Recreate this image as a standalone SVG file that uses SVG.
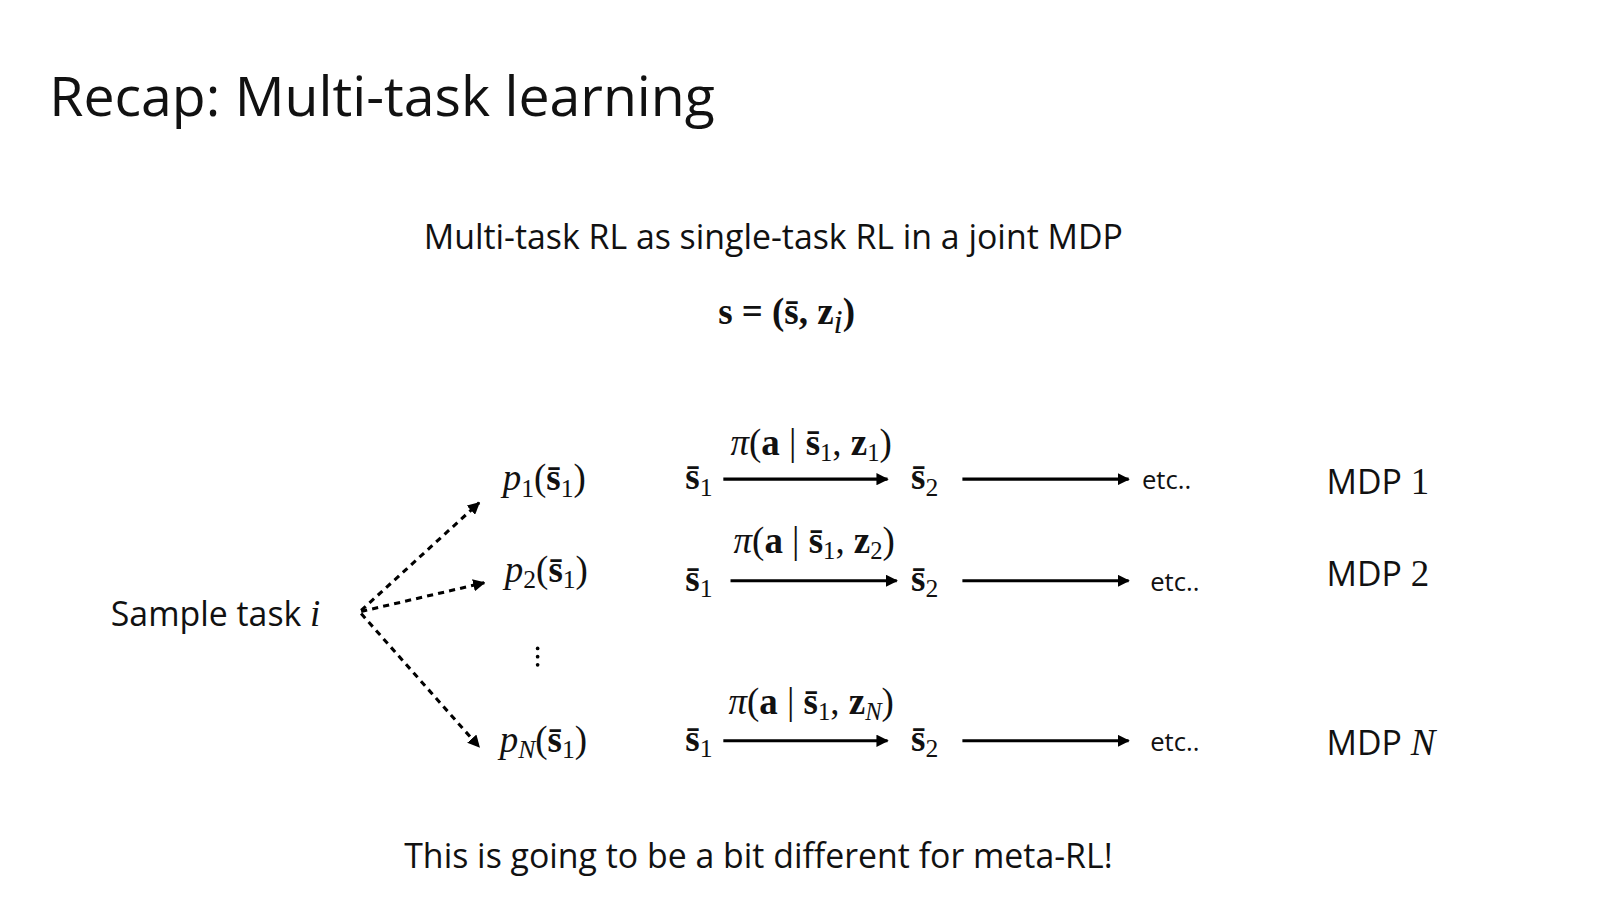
<svg xmlns="http://www.w3.org/2000/svg" width="1600" height="900" viewBox="0 0 1600 900">
<style>
.sans{font-family:"Open Sans","Noto Sans",sans-serif;fill:#111}
.m{font-family:"Liberation Serif",serif;fill:#111;font-size:36px}
.b{font-weight:bold}
.i{font-style:italic}
.ln{stroke:#000;stroke-width:3;fill:none}
.dl{stroke:#000;stroke-width:3;fill:none;stroke-dasharray:6,5}
</style>
<defs>
<marker id="ah" viewBox="0 0 10 10" refX="9" refY="5" markerWidth="4" markerHeight="4" orient="auto"><path d="M0,0 L10,5 L0,10 z" fill="#000"/></marker>
</defs>
<rect width="1600" height="900" fill="#fff"/>
<g transform="scale(1.026)">
<text class="sans" x="48" y="113" font-size="54">Recap: Multi-task learning</text>
<text class="sans" x="413" y="243" font-size="33">Multi-task RL as single-task RL in a joint MDP</text>
<text class="m b" x="700" y="316" font-size="46">s = (s̄, z<tspan class="i" font-weight="normal" font-size="32" dy="9">i</tspan><tspan dy="-9">)</tspan></text>
<g id="sample"><text class="sans" x="108" y="610" font-size="33">Sample task <tspan class="m i" font-size="38">i</tspan></text></g>
<g id="p1"><text class="m" x="490" y="478"><tspan class="i">p</tspan><tspan font-size="25" dy="6">1</tspan><tspan dy="-6">(</tspan><tspan class="b">s̄</tspan><tspan font-size="25" dy="6">1</tspan><tspan dy="-6">)</tspan></text></g>
<g id="p2"><text class="m" x="492" y="567"><tspan class="i">p</tspan><tspan font-size="25" dy="6">2</tspan><tspan dy="-6">(</tspan><tspan class="b">s̄</tspan><tspan font-size="25" dy="6">1</tspan><tspan dy="-6">)</tspan></text></g>
<g id="pN"><text class="m" x="487" y="733"><tspan class="i">p</tspan><tspan class="i" font-size="25" dy="6">N</tspan><tspan dy="-6">(</tspan><tspan class="b">s̄</tspan><tspan font-size="25" dy="6">1</tspan><tspan dy="-6">)</tspan></text></g>
<g id="vdots"><circle cx="524" cy="632" r="1.8"/><circle cx="524" cy="640" r="1.8"/><circle cx="524" cy="648" r="1.8"/></g>
<g id="row1">
<text class="m" x="668" y="477"><tspan class="b">s̄</tspan><tspan font-size="25" dy="6">1</tspan></text>
<text class="m" x="712" y="443" font-size="34"><tspan class="i">π</tspan>(<tspan class="b">a</tspan> | <tspan class="b">s̄</tspan><tspan font-size="24" dy="6">1</tspan><tspan dy="-6">, </tspan><tspan class="b">z</tspan><tspan font-size="24" dy="6">1</tspan><tspan dy="-6">)</tspan></text>
<text class="m" x="888" y="477"><tspan class="b">s̄</tspan><tspan font-size="25" dy="6">2</tspan></text>
<text class="sans" x="1113" y="477" font-size="25">etc..</text>
<text class="sans" x="1293" y="481" font-size="33">MDP <tspan class="m" font-size="38">1</tspan></text>
</g>
<g id="row2">
<text class="m" x="668" y="576"><tspan class="b">s̄</tspan><tspan font-size="25" dy="6">1</tspan></text>
<text class="m" x="715" y="539" font-size="34"><tspan class="i">π</tspan>(<tspan class="b">a</tspan> | <tspan class="b">s̄</tspan><tspan font-size="24" dy="6">1</tspan><tspan dy="-6">, </tspan><tspan class="b">z</tspan><tspan font-size="24" dy="6">2</tspan><tspan dy="-6">)</tspan></text>
<text class="m" x="888" y="576"><tspan class="b">s̄</tspan><tspan font-size="25" dy="6">2</tspan></text>
<text class="sans" x="1121" y="576" font-size="25">etc..</text>
<text class="sans" x="1293" y="571" font-size="33">MDP <tspan class="m" font-size="38">2</tspan></text>
</g>
<g id="row3">
<text class="m" x="668" y="732"><tspan class="b">s̄</tspan><tspan font-size="25" dy="6">1</tspan></text>
<text class="m" x="710" y="696" font-size="34"><tspan class="i">π</tspan>(<tspan class="b">a</tspan> | <tspan class="b">s̄</tspan><tspan font-size="24" dy="6">1</tspan><tspan dy="-6">, </tspan><tspan class="b">z</tspan><tspan class="i" font-size="24" dy="6">N</tspan><tspan dy="-6">)</tspan></text>
<text class="m" x="888" y="732"><tspan class="b">s̄</tspan><tspan font-size="25" dy="6">2</tspan></text>
<text class="sans" x="1121" y="732" font-size="25">etc..</text>
<text class="sans" x="1293" y="736" font-size="33">MDP <tspan class="m i" font-size="38">N</tspan></text>
</g>
<g id="connectors">
<line class="dl" x1="352" y1="595" x2="467" y2="490" marker-end="url(#ah)"/>
<line class="dl" x1="352" y1="596" x2="472" y2="568" marker-end="url(#ah)"/>
<line class="dl" x1="352" y1="598" x2="467" y2="728" marker-end="url(#ah)"/>
<line class="ln" x1="705" y1="467" x2="865" y2="467" marker-end="url(#ah)"/>
<line class="ln" x1="938" y1="467" x2="1100" y2="467" marker-end="url(#ah)"/>
<line class="ln" x1="712" y1="566" x2="874" y2="566" marker-end="url(#ah)"/>
<line class="ln" x1="938" y1="566" x2="1100" y2="566" marker-end="url(#ah)"/>
<line class="ln" x1="705" y1="722" x2="865" y2="722" marker-end="url(#ah)"/>
<line class="ln" x1="938" y1="722" x2="1100" y2="722" marker-end="url(#ah)"/>
</g>
<text class="sans" x="394" y="846" font-size="33">This is going to be a bit different for meta-RL!</text>
</g>
</svg>
